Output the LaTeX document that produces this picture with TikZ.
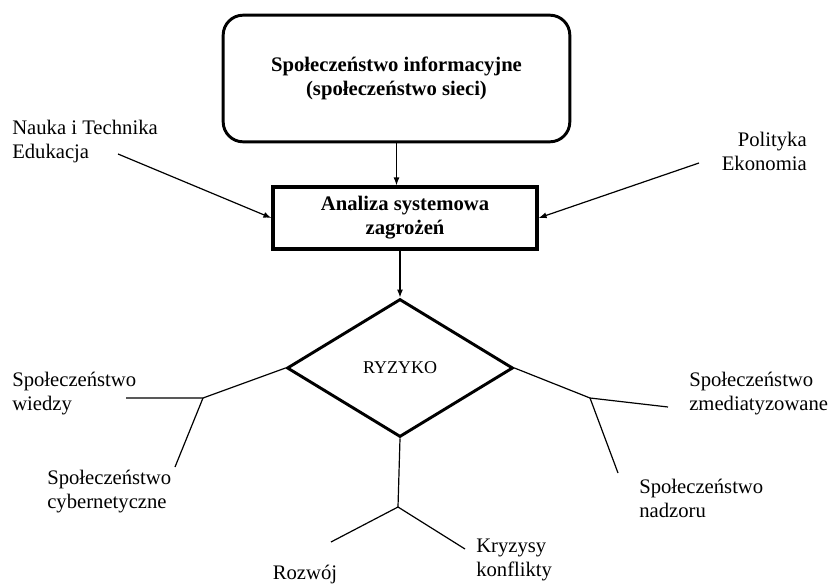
\documentclass[tikz,border=0pt]{standalone}
\usepackage{fontspec}
\setmainfont{Liberation Serif}
\usetikzlibrary{shapes.geometric,arrows.meta}
\begin{document}
\begin{tikzpicture}[x=0.75pt,y=-0.75pt,font=\fontsize{15.5}{18}\selectfont,>={Latex[length=6pt,width=4.5pt]},
  lbl/.style={inner sep=0pt,align=left},
  thin line/.style={line width=0.9pt}]
\useasboundingbox (0,0) rectangle (836,585);
\node[draw,line width=2.2pt,rounded corners=15pt,minimum width=260pt,minimum height=95pt,align=center,font=\fontsize{15.5}{18}\selectfont\bfseries] (info) at (396.5,78.5) {Społeczeństwo informacyjne\\(społeczeństwo sieci)};
\node[draw,line width=2.4pt,minimum width=198pt,minimum height=46.5pt,align=center,font=\fontsize{15.5}{18}\selectfont\bfseries] (ana) at (405,218) {Analiza systemowa\\zagrożeń};
\node[draw,diamond,line width=2.2pt,inner sep=0pt,aspect=1.64,minimum width=169.5pt,minimum height=103.5pt,font=\fontsize{13.5}{16}\selectfont] (ryz) at (400,368) {RYZYKO};
\node[lbl,anchor=west] (nauka) at (12,141.5) {Nauka i Technika\\Edukacja};
\node[lbl,anchor=east,align=right] (pol) at (807,151.5) {Polityka\\Ekonomia};
\node[lbl,anchor=west] (wiedza) at (12,393.5) {Społeczeństwo\\wiedzy};
\node[lbl,anchor=west] (cyber) at (47,492) {Społeczeństwo\\cybernetyczne};
\node[lbl,anchor=west] (media) at (689,393.5) {Społeczeństwo\\zmediatyzowane};
\node[lbl,anchor=west] (nadzor) at (639,498.5) {Społeczeństwo\\nadzoru};
\node[lbl] (rozwoj) at (305,575) {Rozwój};
\node[lbl,anchor=west] (kryzys) at (476,560) {Kryzysy\\konflikty};
% punkty rozgalezien
\coordinate (nk) at (118,154);
\coordinate (pe) at (699,163);
\coordinate (jl) at (203,398);
\coordinate (jr) at (590,398);
\coordinate (jb) at (398,507);
\coordinate (wl) at (126,398);
\coordinate (cl) at (175,467);
\coordinate (zr) at (668,407);
\coordinate (nr) at (618,473);
\coordinate (rb) at (331,542);
\coordinate (kb) at (465,549);
\draw[thin line,->] (info.south) -- (info.south |- ana.north);
\draw[thin line,->] (nk) -- (ana.west);
\draw[thin line,->] (pe) -- (ana.east);
\draw[thin line,->] (ryz.north |- ana.south) -- (ryz.north);
\draw[thin line] (ryz.west) -- (jl) -- (wl);
\draw[thin line] (jl) -- (cl);
\draw[thin line] (ryz.east) -- (jr) -- (zr);
\draw[thin line] (jr) -- (nr);
\draw[thin line] (ryz.south) -- (jb) -- (rb);
\draw[thin line] (jb) -- (kb);
\end{tikzpicture}
\end{document}
